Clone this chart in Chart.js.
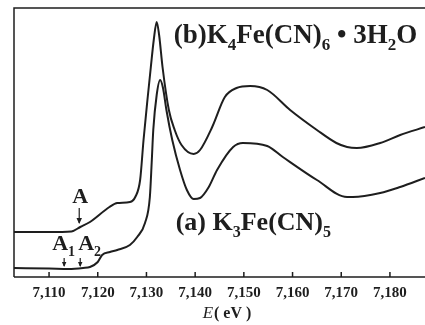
<!DOCTYPE html>
<html>
<head>
<meta charset="utf-8">
<script src="https://cdn.jsdelivr.net/npm/chart.js@4/dist/chart.umd.min.js"></script>
<style>
  html, body { margin: 0; padding: 0; background: #fff; }
</style>
</head>
<body>
<canvas id="xanes" width="425" height="325"></canvas>
<script>
// Fe K-edge XANES, energies in eV, absorption in arbitrary units
const energyB = [7102.8, 7110, 7114.6, 7116.4, 7118.4, 7122.4, 7124.0, 7126.6, 7127.7, 7128.7,
  7129.4, 7130.2, 7130.9, 7131.5, 7132.1, 7132.6, 7133.3, 7134.6, 7135.8, 7137.2,
  7139.7, 7141.0, 7143.5, 7146.1, 7148.5, 7151.3, 7154.8, 7159.5, 7165.0, 7169.0,
  7171.2, 7173.2, 7178.0, 7182.1, 7187.2];
const absB = [45, 45, 45.5, 50, 55, 70, 74, 75, 80, 97,
  137, 177, 210, 237, 255, 242, 210, 167, 147, 132,
  123, 127, 150, 180, 189, 191, 187, 167, 147, 134,
  130, 129, 134, 142, 150];

const energyA = [7102.8, 7110, 7114, 7117, 7118.4, 7120, 7120.9, 7122.5, 7124.0, 7126.6,
  7128.1, 7129.7, 7130.7, 7131.1, 7131.4, 7132.1, 7132.8, 7133.4, 7134.1, 7135.3,
  7136.9, 7138.3, 7139.7, 7141.0, 7142.8, 7144.5, 7147.8, 7149.8, 7154.8, 7158.0,
  7165.0, 7171.2, 7172.4, 7178.0, 7182.1, 7187.2];
const absA = [9, 8.5, 8, 9, 10, 15, 22, 25, 27, 32,
  40, 54, 80, 117, 147, 182, 197, 189, 167, 137,
  107, 87, 78, 79, 90, 107, 130, 134, 131, 120,
  97, 80, 80, 84, 90, 99];

const tickValues = [7110, 7120, 7130, 7140, 7150, 7160, 7170, 7180];
const xMin = 7102.8, xMax = 7187.2;

// pre-edge features marked with arrows
const markB = 7116.4;
const markA1 = 7113.1, markA2 = 7116.4;

const ink = '#1e1e1e';
const serif = '"Liberation Serif", "DejaVu Serif", serif';

function richText(ctx, parts, x, y, size) {
  // parts: [text, isSub]
  let cx = x;
  parts.forEach(([t, sub]) => {
    const s = sub ? Math.round(size * 0.62) : size;
    ctx.font = 'bold ' + s + 'px ' + serif;
    ctx.fillText(t, cx, sub ? y + size * 0.25 : y);
    cx += ctx.measureText(t).width;
  });
}

function arrow(ctx, x, y1, y2, head) {
  ctx.beginPath();
  ctx.moveTo(x, y1);
  ctx.lineTo(x, y2);
  ctx.stroke();
  ctx.beginPath();
  ctx.moveTo(x, y2 + 1);
  ctx.lineTo(x - head * 0.55, y2 - head);
  ctx.lineTo(x + head * 0.55, y2 - head);
  ctx.closePath();
  ctx.fill();
}

const decor = {
  id: 'decor',
  afterDraw(chart) {
    const ctx = chart.ctx, a = chart.chartArea;
    const xs = chart.scales.x;
    ctx.save();
    ctx.strokeStyle = ink;
    ctx.fillStyle = ink;
    ctx.lineWidth = 1.5;
    // frame: left, top, bottom
    ctx.beginPath();
    ctx.moveTo(a.left, a.bottom);
    ctx.lineTo(a.left, a.top);
    ctx.lineTo(a.right, a.top);
    ctx.moveTo(a.left, a.bottom);
    ctx.lineTo(a.right, a.bottom);
    // inward tick marks
    tickValues.forEach(v => {
      const x = xs.getPixelForValue(v);
      ctx.moveTo(x, a.bottom);
      ctx.lineTo(x, a.bottom - 5);
    });
    ctx.stroke();

    // axis title E(eV)
    ctx.textBaseline = 'alphabetic';
    ctx.font = 'italic 17px ' + serif;
    const wE = ctx.measureText('E').width;
    ctx.font = 'bold 16px ' + serif;
    const wR = ctx.measureText('( eV )').width;
    const tx = (a.left + a.right) / 2 + 7 - (wE + wR) / 2;
    ctx.font = 'italic 17px ' + serif;
    ctx.fillText('E', tx, 318);
    ctx.font = 'bold 16px ' + serif;
    ctx.fillText('( eV )', tx + wE + 1, 318);

    // sample labels
    richText(ctx, [['(b)K', 0], ['4', 1], ['Fe(CN)', 0], ['6', 1], [' \u2022 3H', 0], ['2', 1], ['O', 0]],
      xs.getPixelForValue(7135.6), a.top + 35, 27);
    richText(ctx, [['(a) K', 0], ['3', 1], ['Fe(CN)', 0], ['5', 1]],
      xs.getPixelForValue(7136.0), a.top + 222, 26);

    // pre-edge markers
    ctx.lineWidth = 1.2;
    const xb = xs.getPixelForValue(markB);
    ctx.font = 'bold 22px ' + serif;
    ctx.textAlign = 'center';
    ctx.fillText('A', xb, 203);
    arrow(ctx, xb - 1, 208, 223, 5);

    const x1 = xs.getPixelForValue(markA1), x2 = xs.getPixelForValue(markA2);
    ctx.textAlign = 'left';
    richText(ctx, [['A', 0], ['1', 1]], x1 - 12, 250, 22);
    richText(ctx, [['A', 0], ['2', 1]], x2 - 2, 250, 22);
    arrow(ctx, x1, 258, 266, 4);
    arrow(ctx, x2, 258, 266, 4);
    ctx.restore();
  }
};

new Chart(document.getElementById('xanes'), {
  type: 'line',
  data: {
    datasets: [
      {
        label: '(b) K4Fe(CN)6·3H2O',
        data: energyB.map((e, i) => ({ x: e, y: absB[i] })),
        borderColor: ink, borderWidth: 2, pointRadius: 0,
        cubicInterpolationMode: 'monotone', fill: false
      },
      {
        label: '(a) K3Fe(CN)5',
        data: energyA.map((e, i) => ({ x: e, y: absA[i] })),
        borderColor: ink, borderWidth: 2, pointRadius: 0,
        cubicInterpolationMode: 'monotone', fill: false
      }
    ]
  },
  options: {
    responsive: false,
    animation: false,
    devicePixelRatio: 1,
    layout: { padding: { left: 14, top: 8, right: 0, bottom: 0 } },
    plugins: { legend: { display: false }, tooltip: { enabled: false } },
    scales: {
      x: {
        type: 'linear',
        min: xMin, max: xMax,
        afterBuildTicks: s => { s.ticks = tickValues.map(v => ({ value: v })); },
        afterFit: s => { s.height = 48; },
        grid: { display: false, drawTicks: false },
        border: { display: false },
        ticks: {
          padding: 7,
          color: ink,
          font: { family: serif, size: 15, weight: 'bold' },
          maxRotation: 0,
          callback: v => String(v).replace(/(\d)(\d{3})$/, '$1,$2')
        }
      },
      y: { display: false, min: 0, max: 269 }
    }
  },
  plugins: [decor]
});
</script>
</body>
</html>
